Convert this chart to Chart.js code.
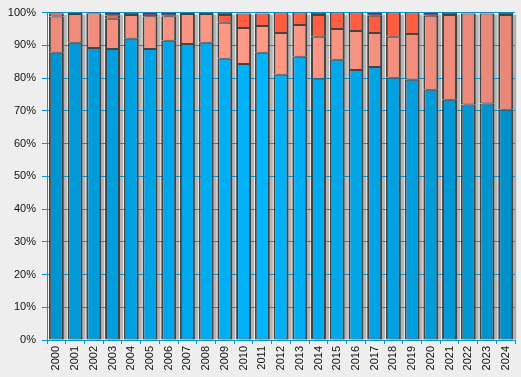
<!DOCTYPE html>
<html>
<head>
<meta charset="utf-8">
<script src="https://cdn.jsdelivr.net/npm/chart.js@4.4.0/dist/chart.umd.min.js"></script>
<style>
  html, body { margin: 0; padding: 0; background: #eeeeee; }
  #wrap { width: 521px; height: 377px; }
</style>
</head>
<body>
<div id="wrap"><canvas id="shareChart"></canvas></div>
<script>
// Years on the x axis
const years = ['2000', '2001', '2002', '2003', '2004', '2005', '2006', '2007', '2008', '2009',
    '2010', '2011', '2012', '2013', '2014', '2015', '2016', '2017', '2018', '2019',
    '2020', '2021', '2022', '2023', '2024'];

// Shares in percent, bottom to top
const blueShare = [87.7, 90.8, 89.2, 88.9, 92.0, 88.9, 91.4, 90.4, 90.8, 85.9,
    84.3, 87.7, 81.0, 86.5, 79.8, 85.6, 82.5, 83.4, 80.1, 79.5,
    76.4, 73.4, 71.9, 72.2, 70.3];
const salmonShare = [11.1, 8.8, 10.6, 9.2, 7.3, 10.0, 7.5, 9.2, 8.8, 11.0,
    11.0, 8.2, 12.8, 9.7, 12.8, 9.4, 11.9, 10.4, 12.5, 14.0,
    22.6, 25.9, 27.8, 27.5, 29.0];
const redShare = [1.0, 0, 0, 1.1, 0, 0, 0.3, 0, 0, 2.4,
    4.4, 3.8, 6.2, 3.8, 6.7, 5.0, 5.6, 5.2, 7.4, 6.5,
    0, 0, 0, 0, 0];
const maroonShare = [0.2, 0.4, 0.2, 0.8, 0.7, 1.1, 0.8, 0.4, 0.4, 0.7,
    0.3, 0.3, 0, 0, 0.7, 0, 0, 1.0, 0, 0,
    1.0, 0.7, 0.3, 0.3, 0.7];

const yTicks = [0, 10, 20, 30, 40, 50, 60, 70, 80, 90, 100];

const axisBlue = '#0096d6';

// horizontal gradient across the plot: darker at the edges, brighter in the middle
function sideGradient(edge, mid, edge2) {
    return function(context) {
        const chart = context.chart;
        const area = chart.chartArea;
        if (!area) return mid;
        const g = chart.ctx.createLinearGradient(area.left, 0, area.right, 0);
        g.addColorStop(0, edge);
        g.addColorStop(0.45, mid);
        g.addColorStop(1, edge2);
        return g;
    };
}

const plotBackground = {
    id: 'plotBackground',
    beforeDraw(chart) {
        const {ctx, chartArea: a} = chart;
        ctx.save();
        ctx.fillStyle = '#fbfbfb';
        ctx.fillRect(a.left, a.top, a.right - a.left, a.bottom - a.top);
        ctx.restore();
    }
};

// gray shadow to the right of each stacked bar, drawn under the grid lines
const barShadow = {
    id: 'barShadow',
    beforeDraw(chart) {
        const ctx = chart.ctx;
        const metas = chart.data.datasets.map((d, i) => chart.getDatasetMeta(i));
        ctx.save();
        ctx.fillStyle = 'rgba(0, 0, 0, 0.28)';
        metas[0].data.forEach((bar, i) => {
            let top = bar.y;
            metas.forEach(m => { top = Math.min(top, m.data[i].y); });
            const left = bar.x - bar.width / 2;
            ctx.fillRect(left + 3, top + 2, bar.width, bar.base - top - 2);
        });
        ctx.restore();
    }
};

function makeSet(label, data, color, topWidth) {
    return {
        label: label,
        data: data,
        backgroundColor: color,
        borderColor: '#444444',
        borderWidth: { left: 2, right: 2, top: topWidth, bottom: 1 },
        borderSkipped: false,
        barPercentage: 0.8,
        categoryPercentage: 1.0
    };
}

const ctx = document.getElementById('shareChart').getContext('2d');
new Chart(ctx, {
    type: 'bar',
    data: {
        labels: years,
        datasets: [
            makeSet('Blue', blueShare, sideGradient('#0094d0', '#00b4fc', '#0090c8'), 1),
            makeSet('Salmon', salmonShare, sideGradient('#ee8a7a', '#ff9a86', '#e88678'), 1),
            makeSet('Red', redShare, '#ff5c40', 1),
            makeSet('Maroon', maroonShare, '#9a0048', 2)
        ]
    },
    options: {
        responsive: true,
        maintainAspectRatio: false,
        animation: false,
        layout: { padding: { top: 12, right: 5, left: 0, bottom: 0 } },
        plugins: {
            legend: { display: false },
            tooltip: { enabled: false }
        },
        scales: {
            x: {
                stacked: true,
                afterFit(scale) { scale.height = 37; },
                grid: {
                    drawOnChartArea: false,
                    drawTicks: true,
                    tickLength: 4,
                    color: axisBlue,
                    offset: true
                },
                border: { display: true, color: axisBlue, width: 1 },
                ticks: {
                    minRotation: 90,
                    maxRotation: 90,
                    padding: 2,
                    color: '#111111',
                    font: { family: 'Liberation Sans, Arial, sans-serif', size: 11 }
                }
            },
            y: {
                stacked: true,
                min: 0,
                max: 100,
                afterFit(scale) { scale.width = 47; },
                afterBuildTicks(scale) {
                    scale.ticks = yTicks.map(v => ({ value: v }));
                },
                grid: {
                    color: axisBlue,
                    tickLength: 5
                },
                border: { display: true, color: axisBlue, width: 1 },
                ticks: {
                    padding: 6,
                    color: '#111111',
                    font: { family: 'Liberation Sans, Arial, sans-serif', size: 11 },
                    callback: v => v + '%'
                }
            }
        }
    },
    plugins: [plotBackground, barShadow]
});
</script>
</body>
</html>
